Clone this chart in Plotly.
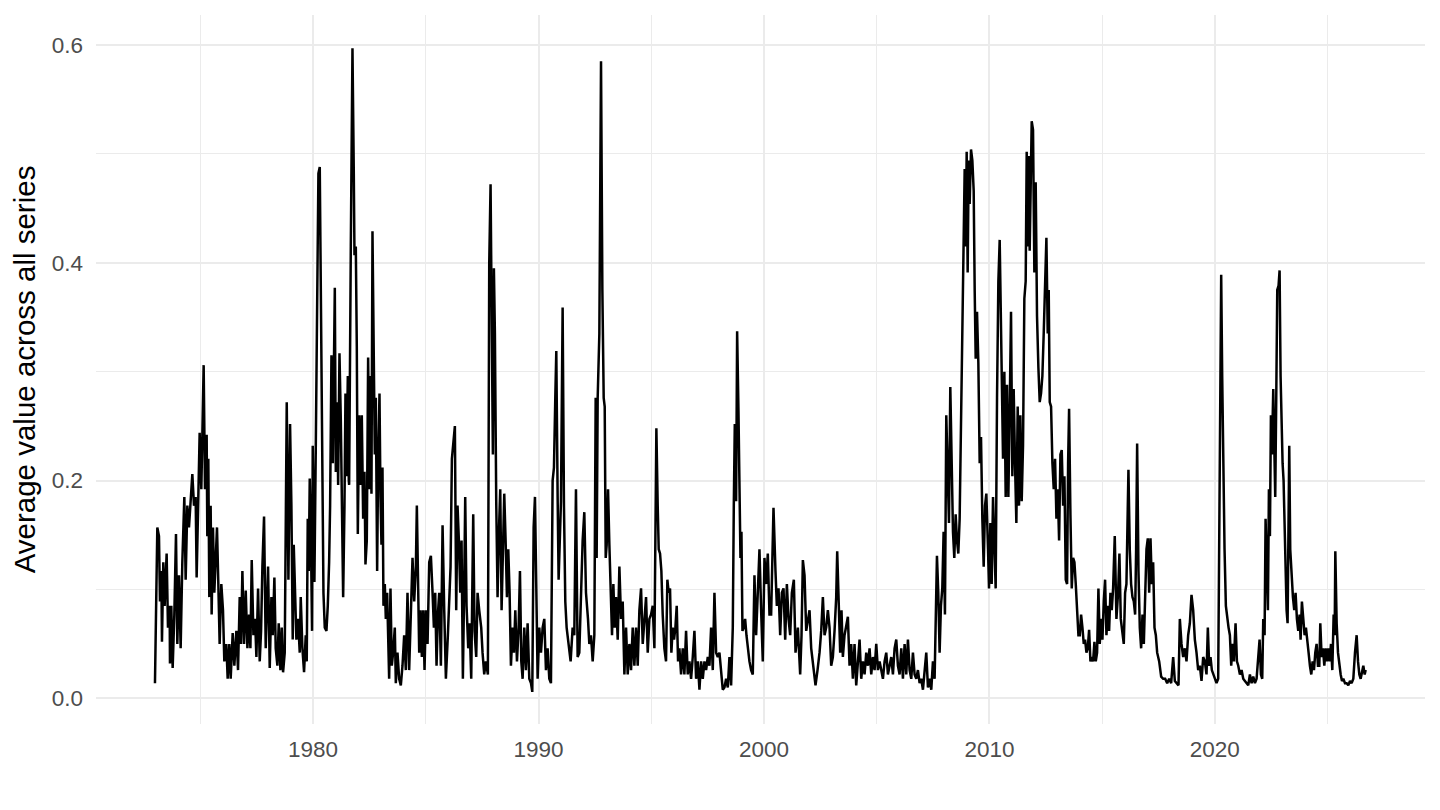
import pandas as pd
import plotly.graph_objects as go

# decimal years and average values
years_1973 = [1972.985, 1973.089, 1973.163, 1973.207, 1973.266, 1973.296, 1973.355, 1973.414, 1973.459, 1973.503,
              1973.562, 1973.636, 1973.651, 1973.710, 1973.770, 1973.844, 1973.918, 1973.977, 1974.051, 1974.125,
              1974.199, 1974.288, 1974.347, 1974.421, 1974.495, 1974.569, 1974.643, 1974.717, 1974.791, 1974.835,
              1974.909, 1974.968, 1975.042, 1975.087, 1975.146, 1975.205, 1975.279, 1975.308, 1975.353, 1975.397,
              1975.456, 1975.501, 1975.560, 1975.619, 1975.678, 1975.738, 1975.797, 1975.856, 1975.930, 1976.004,
              1976.063, 1976.152, 1976.211, 1976.285, 1976.345, 1976.433, 1976.507, 1976.596, 1976.670, 1976.744,
              1976.803, 1976.863, 1976.937, 1977.011, 1977.085, 1977.158, 1977.218, 1977.277, 1977.351, 1977.425,
              1977.484, 1977.558, 1977.632, 1977.691, 1977.750, 1977.824, 1977.898, 1977.958, 1978.002, 1978.076,
              1978.150, 1978.209, 1978.283, 1978.342, 1978.416, 1978.475, 1978.549, 1978.609, 1978.668, 1978.742,
              1978.831, 1978.905, 1978.979, 1979.038, 1979.097, 1979.142, 1979.201, 1979.260, 1979.334, 1979.408,
              1979.452, 1979.526, 1979.600, 1979.674, 1979.719, 1979.763, 1979.807, 1979.852, 1979.911, 1979.955,
              1979.985, 1980.059, 1980.118, 1980.177, 1980.236, 1980.296, 1980.355, 1980.399, 1980.459, 1980.518,
              1980.592, 1980.651, 1980.710, 1980.754, 1980.814, 1980.873, 1980.917, 1980.962, 1981.006, 1981.065,
              1981.110, 1981.169, 1981.228, 1981.287, 1981.332, 1981.391, 1981.435, 1981.480, 1981.539, 1981.583]
values_1973 = [0.014, 0.157, 0.149, 0.089, 0.117, 0.052, 0.125, 0.085, 0.109, 0.133,
               0.065, 0.085, 0.032, 0.085, 0.028, 0.077, 0.151, 0.050, 0.113, 0.046,
               0.125, 0.185, 0.109, 0.177, 0.157, 0.188, 0.206, 0.177, 0.185, 0.111,
               0.177, 0.244, 0.192, 0.248, 0.306, 0.192, 0.242, 0.149, 0.220, 0.093,
               0.177, 0.077, 0.157, 0.097, 0.137, 0.157, 0.105, 0.050, 0.105, 0.081,
               0.034, 0.050, 0.018, 0.050, 0.018, 0.060, 0.030, 0.062, 0.026, 0.093,
               0.050, 0.117, 0.050, 0.099, 0.046, 0.077, 0.046, 0.127, 0.058, 0.073,
               0.038, 0.101, 0.034, 0.062, 0.121, 0.167, 0.046, 0.097, 0.121, 0.028,
               0.093, 0.058, 0.111, 0.046, 0.030, 0.069, 0.026, 0.065, 0.024, 0.042,
               0.272, 0.109, 0.252, 0.177, 0.054, 0.141, 0.093, 0.054, 0.073, 0.042,
               0.093, 0.046, 0.024, 0.058, 0.034, 0.165, 0.117, 0.202, 0.137, 0.062,
               0.232, 0.107, 0.226, 0.335, 0.482, 0.488, 0.319, 0.256, 0.097, 0.065,
               0.062, 0.085, 0.125, 0.177, 0.315, 0.216, 0.312, 0.377, 0.208, 0.272,
               0.196, 0.317, 0.256, 0.157, 0.093, 0.177, 0.280, 0.204, 0.296, 0.200]

years_1982 = [1981.598, 1981.672, 1981.746, 1981.805, 1981.835, 1981.894, 1981.938, 1981.983, 1982.042, 1982.101,
              1982.160, 1982.220, 1982.279, 1982.323, 1982.382, 1982.441, 1982.501, 1982.545, 1982.589, 1982.634,
              1982.693, 1982.737, 1982.782, 1982.841, 1982.885, 1982.945, 1982.989, 1983.033, 1983.078, 1983.122,
              1983.181, 1983.226, 1983.285, 1983.329, 1983.374, 1983.433, 1983.492, 1983.551, 1983.625, 1983.670,
              1983.744, 1983.818, 1983.892, 1983.966, 1984.040, 1984.114, 1984.188, 1984.262, 1984.336, 1984.410,
              1984.484, 1984.558, 1984.602, 1984.661, 1984.706, 1984.765, 1984.824, 1984.883, 1984.942, 1985.002,
              1985.076, 1985.150, 1985.224, 1985.298, 1985.357, 1985.416, 1985.475, 1985.534, 1985.594, 1985.668,
              1985.742, 1985.816, 1985.890, 1985.978, 1986.037, 1986.097, 1986.156, 1986.215, 1986.289, 1986.348,
              1986.407, 1986.467, 1986.526, 1986.585, 1986.644, 1986.704, 1986.748, 1986.807, 1986.881, 1986.940,
              1987.014, 1987.103, 1987.162, 1987.236, 1987.296, 1987.369, 1987.458, 1987.517, 1987.591, 1987.665,
              1987.754, 1987.813, 1987.873, 1987.932, 1987.976, 1988.021, 1988.065, 1988.124, 1988.183, 1988.243,
              1988.302, 1988.361, 1988.420, 1988.479, 1988.539, 1988.598, 1988.657, 1988.716, 1988.775, 1988.849,
              1988.908, 1988.968, 1989.042, 1989.116, 1989.175, 1989.234, 1989.293, 1989.367, 1989.441, 1989.515,
              1989.589, 1989.663, 1989.722, 1989.782, 1989.841, 1989.900, 1989.959, 1990.033, 1990.107, 1990.181,
              1990.255, 1990.329, 1990.403, 1990.477, 1990.551, 1990.625, 1990.684, 1990.743, 1990.788, 1990.847,
              1990.891]
values_1982 = [0.196, 0.415, 0.597, 0.482, 0.407, 0.415, 0.323, 0.151, 0.260, 0.196,
               0.260, 0.165, 0.208, 0.123, 0.145, 0.313, 0.192, 0.296, 0.188, 0.429,
               0.256, 0.224, 0.276, 0.117, 0.216, 0.280, 0.185, 0.141, 0.212, 0.085,
               0.105, 0.073, 0.097, 0.058, 0.018, 0.101, 0.030, 0.042, 0.065, 0.014,
               0.042, 0.018, 0.012, 0.030, 0.058, 0.026, 0.097, 0.026, 0.085, 0.129,
               0.089, 0.121, 0.177, 0.089, 0.042, 0.081, 0.038, 0.081, 0.026, 0.081,
               0.050, 0.125, 0.131, 0.097, 0.065, 0.097, 0.030, 0.077, 0.097, 0.030,
               0.159, 0.081, 0.018, 0.058, 0.097, 0.121, 0.220, 0.236, 0.250, 0.081,
               0.177, 0.145, 0.097, 0.145, 0.018, 0.105, 0.185, 0.085, 0.046, 0.069,
               0.018, 0.169, 0.062, 0.038, 0.097, 0.081, 0.065, 0.042, 0.022, 0.034,
               0.022, 0.399, 0.472, 0.327, 0.224, 0.395, 0.335, 0.181, 0.093, 0.153,
               0.192, 0.081, 0.145, 0.188, 0.145, 0.093, 0.137, 0.097, 0.030, 0.065,
               0.042, 0.081, 0.034, 0.065, 0.117, 0.034, 0.018, 0.065, 0.026, 0.069,
               0.018, 0.014, 0.006, 0.157, 0.185, 0.089, 0.018, 0.065, 0.042, 0.065,
               0.073, 0.026, 0.046, 0.018, 0.014, 0.200, 0.212, 0.276, 0.319, 0.185,
               0.109]

years_1991 = [1990.995, 1991.069, 1991.128, 1991.187, 1991.247, 1991.335, 1991.424, 1991.513, 1991.587, 1991.661,
              1991.735, 1991.809, 1991.883, 1991.957, 1992.031, 1992.105, 1992.194, 1992.253, 1992.327, 1992.401,
              1992.475, 1992.534, 1992.578, 1992.623, 1992.697, 1992.771, 1992.830, 1992.889, 1992.934, 1992.978,
              1993.022, 1993.082, 1993.141, 1993.215, 1993.259, 1993.318, 1993.378, 1993.437, 1993.511, 1993.585,
              1993.659, 1993.733, 1993.807, 1993.881, 1993.955, 1994.029, 1994.103, 1994.177, 1994.251, 1994.325,
              1994.399, 1994.473, 1994.547, 1994.621, 1994.695, 1994.769, 1994.843, 1994.917, 1994.991, 1995.065,
              1995.139, 1995.183, 1995.227, 1995.286, 1995.331, 1995.390, 1995.449, 1995.508, 1995.582, 1995.656,
              1995.715, 1995.775, 1995.834, 1995.893, 1995.952, 1996.012, 1996.071, 1996.130, 1996.189, 1996.249,
              1996.323, 1996.397, 1996.470, 1996.544, 1996.618, 1996.692, 1996.766, 1996.840, 1996.914, 1996.988,
              1997.062, 1997.136, 1997.210, 1997.284, 1997.358, 1997.432, 1997.506, 1997.580, 1997.654, 1997.728,
              1997.802, 1997.876, 1997.950, 1998.024, 1998.098, 1998.172, 1998.246, 1998.320, 1998.394, 1998.468,
              1998.542, 1998.616, 1998.661, 1998.705, 1998.764, 1998.809, 1998.868, 1998.912, 1998.957, 1999.001,
              1999.045, 1999.105, 1999.164, 1999.223, 1999.282, 1999.356, 1999.430, 1999.504, 1999.578, 1999.652,
              1999.726, 1999.800, 1999.874, 1999.948, 2000.022, 2000.096, 2000.170]
values_1991 = [0.181, 0.359, 0.177, 0.089, 0.065, 0.046, 0.034, 0.065, 0.058, 0.192,
               0.038, 0.042, 0.093, 0.145, 0.171, 0.097, 0.073, 0.050, 0.058, 0.034,
               0.058, 0.276, 0.129, 0.276, 0.335, 0.585, 0.375, 0.276, 0.268, 0.129,
               0.141, 0.192, 0.141, 0.097, 0.058, 0.105, 0.065, 0.093, 0.054, 0.121,
               0.073, 0.089, 0.022, 0.065, 0.022, 0.050, 0.026, 0.065, 0.030, 0.065,
               0.030, 0.081, 0.101, 0.050, 0.073, 0.093, 0.042, 0.073, 0.077, 0.085,
               0.046, 0.165, 0.248, 0.177, 0.137, 0.133, 0.117, 0.077, 0.046, 0.034,
               0.109, 0.097, 0.101, 0.042, 0.065, 0.054, 0.065, 0.085, 0.034, 0.046,
               0.022, 0.046, 0.022, 0.062, 0.022, 0.034, 0.018, 0.038, 0.062, 0.018,
               0.034, 0.008, 0.034, 0.018, 0.034, 0.026, 0.038, 0.030, 0.065, 0.026,
               0.097, 0.042, 0.038, 0.042, 0.022, 0.008, 0.010, 0.018, 0.010, 0.038,
               0.012, 0.065, 0.177, 0.252, 0.181, 0.337, 0.264, 0.185, 0.129, 0.153,
               0.062, 0.065, 0.073, 0.058, 0.046, 0.034, 0.026, 0.022, 0.113, 0.058,
               0.097, 0.137, 0.081, 0.034, 0.129, 0.105, 0.133]

years_2000 = [2000.244, 2000.318, 2000.422, 2000.510, 2000.570, 2000.644, 2000.718, 2000.792, 2000.866, 2000.940,
              2001.014, 2001.088, 2001.161, 2001.235, 2001.324, 2001.398, 2001.502, 2001.605, 2001.665, 2001.724,
              2001.798, 2001.872, 2001.946, 2002.020, 2002.094, 2002.197, 2002.286, 2002.375, 2002.464, 2002.538,
              2002.612, 2002.686, 2002.760, 2002.834, 2002.908, 2002.982, 2003.056, 2003.130, 2003.204, 2003.248,
              2003.307, 2003.381, 2003.440, 2003.500, 2003.574, 2003.648, 2003.722, 2003.796, 2003.870, 2003.944,
              2004.018, 2004.092, 2004.166, 2004.240, 2004.314, 2004.388, 2004.462, 2004.536, 2004.610, 2004.683,
              2004.757, 2004.831, 2004.905, 2004.979, 2005.053, 2005.127, 2005.201, 2005.275, 2005.349, 2005.423,
              2005.497, 2005.571, 2005.645, 2005.719, 2005.793, 2005.867, 2005.941, 2006.015, 2006.089, 2006.163,
              2006.237, 2006.311, 2006.385, 2006.459, 2006.533, 2006.607, 2006.681, 2006.755, 2006.829, 2006.903,
              2006.977, 2007.051, 2007.125, 2007.199, 2007.273, 2007.347, 2007.421, 2007.495, 2007.569, 2007.613,
              2007.673, 2007.732, 2007.791, 2007.850, 2007.910, 2007.969, 2008.028, 2008.087, 2008.146, 2008.206,
              2008.265, 2008.324, 2008.383, 2008.442, 2008.502, 2008.561, 2008.620, 2008.679, 2008.738, 2008.798,
              2008.842, 2008.901, 2008.945, 2008.990, 2009.034, 2009.079, 2009.123, 2009.182, 2009.241, 2009.301,
              2009.345, 2009.390, 2009.449, 2009.508, 2009.567, 2009.626, 2009.685, 2009.745, 2009.804, 2009.863,
              2009.937, 2009.981]
values_2000 = [0.077, 0.077, 0.175, 0.117, 0.085, 0.101, 0.058, 0.097, 0.101, 0.054,
               0.105, 0.073, 0.058, 0.097, 0.109, 0.042, 0.065, 0.022, 0.058, 0.127,
               0.113, 0.062, 0.073, 0.081, 0.046, 0.026, 0.012, 0.026, 0.042, 0.062,
               0.093, 0.058, 0.065, 0.081, 0.065, 0.030, 0.038, 0.062, 0.093, 0.135,
               0.089, 0.042, 0.081, 0.038, 0.058, 0.065, 0.075, 0.030, 0.050, 0.018,
               0.050, 0.012, 0.034, 0.054, 0.018, 0.034, 0.022, 0.042, 0.030, 0.046,
               0.022, 0.038, 0.026, 0.050, 0.026, 0.034, 0.026, 0.018, 0.034, 0.042,
               0.022, 0.030, 0.038, 0.022, 0.046, 0.054, 0.030, 0.022, 0.046, 0.018,
               0.050, 0.022, 0.054, 0.026, 0.018, 0.042, 0.022, 0.018, 0.026, 0.014,
               0.018, 0.008, 0.022, 0.042, 0.010, 0.018, 0.008, 0.034, 0.018, 0.065,
               0.131, 0.097, 0.042, 0.085, 0.101, 0.153, 0.077, 0.260, 0.216, 0.161,
               0.286, 0.216, 0.153, 0.129, 0.169, 0.145, 0.133, 0.165, 0.256, 0.375,
               0.446, 0.486, 0.415, 0.502, 0.391, 0.494, 0.454, 0.504, 0.494, 0.466,
               0.375, 0.312, 0.355, 0.308, 0.216, 0.240, 0.165, 0.121, 0.177, 0.188,
               0.137, 0.101]

years_2010 = [2010.041, 2010.100, 2010.159, 2010.218, 2010.277, 2010.337, 2010.396, 2010.455, 2010.499, 2010.544,
              2010.603, 2010.662, 2010.721, 2010.780, 2010.840, 2010.899, 2010.958, 2011.017, 2011.076, 2011.136,
              2011.195, 2011.254, 2011.313, 2011.372, 2011.432, 2011.491, 2011.550, 2011.609, 2011.654, 2011.698,
              2011.743, 2011.787, 2011.831, 2011.876, 2011.935, 2011.994, 2012.053, 2012.112, 2012.172, 2012.231,
              2012.290, 2012.349, 2012.408, 2012.468, 2012.527, 2012.586, 2012.630, 2012.675, 2012.734, 2012.793,
              2012.852, 2012.911, 2012.971, 2013.030, 2013.089, 2013.148, 2013.207, 2013.267, 2013.326, 2013.385,
              2013.444, 2013.489, 2013.533, 2013.592, 2013.651, 2013.711, 2013.770, 2013.829, 2013.888, 2013.947,
              2014.007, 2014.066, 2014.125, 2014.184, 2014.243, 2014.303, 2014.362, 2014.421, 2014.480, 2014.539,
              2014.599, 2014.658, 2014.717, 2014.776, 2014.835, 2014.895, 2014.954, 2015.013, 2015.072, 2015.131,
              2015.191, 2015.250, 2015.309, 2015.368, 2015.427, 2015.487, 2015.560, 2015.634, 2015.708, 2015.767,
              2015.827, 2015.901, 2015.960, 2016.019, 2016.078, 2016.167, 2016.226, 2016.285, 2016.345, 2016.404,
              2016.463, 2016.507, 2016.552, 2016.611, 2016.670, 2016.729, 2016.789, 2016.848, 2016.907, 2016.966,
              2017.025, 2017.085, 2017.144, 2017.203, 2017.262, 2017.321, 2017.381, 2017.440, 2017.529, 2017.617,
              2017.706, 2017.795, 2017.884, 2017.973, 2018.061, 2018.150, 2018.224, 2018.298, 2018.387, 2018.446,
              2018.520, 2018.594, 2018.668, 2018.742, 2018.816, 2018.890]
values_2010 = [0.161, 0.105, 0.185, 0.137, 0.101, 0.276, 0.383, 0.421, 0.355, 0.312,
               0.220, 0.300, 0.185, 0.288, 0.185, 0.264, 0.355, 0.204, 0.284, 0.216,
               0.161, 0.268, 0.177, 0.260, 0.181, 0.232, 0.367, 0.383, 0.502, 0.415,
               0.498, 0.411, 0.462, 0.530, 0.522, 0.391, 0.474, 0.351, 0.304, 0.272,
               0.280, 0.296, 0.335, 0.379, 0.423, 0.335, 0.375, 0.272, 0.268, 0.216,
               0.192, 0.220, 0.165, 0.192, 0.145, 0.224, 0.228, 0.177, 0.204, 0.109,
               0.105, 0.216, 0.266, 0.169, 0.101, 0.129, 0.125, 0.105, 0.085, 0.058,
               0.058, 0.077, 0.065, 0.050, 0.054, 0.042, 0.046, 0.063, 0.034, 0.038,
               0.034, 0.052, 0.034, 0.042, 0.101, 0.050, 0.073, 0.054, 0.089, 0.109,
               0.058, 0.085, 0.062, 0.097, 0.081, 0.101, 0.149, 0.073, 0.097, 0.133,
               0.073, 0.062, 0.050, 0.097, 0.105, 0.210, 0.137, 0.105, 0.093, 0.089,
               0.077, 0.137, 0.234, 0.117, 0.065, 0.046, 0.077, 0.050, 0.101, 0.137,
               0.147, 0.097, 0.147, 0.105, 0.125, 0.065, 0.058, 0.042, 0.034, 0.020,
               0.018, 0.018, 0.014, 0.018, 0.014, 0.038, 0.016, 0.014, 0.012, 0.073,
               0.050, 0.038, 0.046, 0.034, 0.058, 0.069]

years_2019 = [2018.964, 2019.038, 2019.112, 2019.186, 2019.260, 2019.334, 2019.408, 2019.482, 2019.556, 2019.630,
              2019.689, 2019.748, 2019.808, 2019.867, 2019.926, 2020.000, 2020.074, 2020.148, 2020.192, 2020.237,
              2020.281, 2020.325, 2020.370, 2020.429, 2020.488, 2020.547, 2020.607, 2020.666, 2020.725, 2020.784,
              2020.843, 2020.917, 2020.977, 2021.036, 2021.110, 2021.184, 2021.258, 2021.332, 2021.406, 2021.480,
              2021.554, 2021.628, 2021.702, 2021.776, 2021.850, 2021.924, 2021.983, 2022.042, 2022.101, 2022.146,
              2022.205, 2022.249, 2022.294, 2022.353, 2022.397, 2022.442, 2022.486, 2022.530, 2022.590, 2022.634,
              2022.678, 2022.723, 2022.767, 2022.826, 2022.871, 2022.915, 2022.960, 2023.004, 2023.048, 2023.093,
              2023.137, 2023.182, 2023.226, 2023.270, 2023.300, 2023.344, 2023.403, 2023.463, 2023.522, 2023.581,
              2023.640, 2023.699, 2023.759, 2023.803, 2023.862, 2023.921, 2023.981, 2024.040, 2024.099, 2024.158,
              2024.217, 2024.277, 2024.336, 2024.395, 2024.454, 2024.513, 2024.573, 2024.632, 2024.676, 2024.735,
              2024.795, 2024.854, 2024.913, 2024.972, 2025.031, 2025.091, 2025.150, 2025.209, 2025.268, 2025.313,
              2025.342, 2025.401, 2025.461, 2025.520, 2025.579, 2025.638, 2025.697, 2025.771, 2025.845, 2025.919,
              2025.993, 2026.067, 2026.141, 2026.215, 2026.289, 2026.349, 2026.408, 2026.467, 2026.526, 2026.585,
              2026.645, 2026.689]
values_2019 = [0.095, 0.081, 0.054, 0.042, 0.026, 0.030, 0.016, 0.038, 0.034, 0.022,
               0.065, 0.030, 0.038, 0.026, 0.022, 0.018, 0.014, 0.018, 0.137, 0.296,
               0.389, 0.296, 0.216, 0.137, 0.085, 0.073, 0.065, 0.058, 0.030, 0.050,
               0.034, 0.069, 0.034, 0.030, 0.022, 0.026, 0.018, 0.016, 0.014, 0.012,
               0.022, 0.014, 0.020, 0.014, 0.018, 0.034, 0.054, 0.022, 0.018, 0.073,
               0.058, 0.165, 0.129, 0.081, 0.192, 0.149, 0.260, 0.224, 0.284, 0.216,
               0.185, 0.276, 0.375, 0.379, 0.393, 0.296, 0.240, 0.216, 0.200, 0.157,
               0.109, 0.081, 0.069, 0.216, 0.232, 0.137, 0.113, 0.093, 0.081, 0.097,
               0.073, 0.062, 0.077, 0.054, 0.089, 0.069, 0.058, 0.065, 0.050, 0.042,
               0.030, 0.022, 0.034, 0.026, 0.042, 0.050, 0.030, 0.030, 0.069, 0.038,
               0.046, 0.030, 0.046, 0.034, 0.046, 0.034, 0.050, 0.026, 0.077, 0.058,
               0.135, 0.069, 0.042, 0.030, 0.022, 0.016, 0.018, 0.014, 0.014, 0.012,
               0.016, 0.014, 0.018, 0.042, 0.058, 0.034, 0.022, 0.018, 0.026, 0.030,
               0.022, 0.026]

y_ticks = [0.0, 0.2, 0.4, 0.6]
y_labels = ["0.0", "0.2", "0.4", "0.6"]
x_ticks = ["1980-01-01", "1990-01-01", "2000-01-01", "2010-01-01", "2020-01-01"]
x_labels = ["1980", "1990", "2000", "2010", "2020"]
x_minor = ["1975-01-01", "1985-01-01", "1995-01-01", "2005-01-01", "2015-01-01", "2025-01-01"]


def to_date(y):
    yr = int(y)
    start = pd.Timestamp(year=yr, month=1, day=1)
    end = pd.Timestamp(year=yr + 1, month=1, day=1)
    return start + (end - start) * (y - yr)


years = years_1973 + years_1982 + years_1991 + years_2000 + years_2010 + years_2019
values = values_1973 + values_1982 + values_1991 + values_2000 + values_2010 + values_2019
dates = [to_date(y) for y in years]

fig = go.Figure()
fig.add_trace(go.Scatter(x=dates, y=values, mode="lines",
                         line=dict(color="black", width=2.5), showlegend=False))

grid = "#EBEBEB"
# page body has an 8px margin, so the figure is sized to sit inside it
fig.update_layout(
    width=1424, height=794,
    margin=dict(l=88, r=7, t=7, b=78),
    paper_bgcolor="white", plot_bgcolor="white",
    font=dict(family="Liberation Sans, Arial, sans-serif", color="#4D4D4D"),
)
fig.update_xaxes(
    range=[to_date(1970.37), to_date(2029.32)],
    tickvals=x_ticks, ticktext=x_labels,
    tickfont=dict(size=22.5, color="#4D4D4D"),
    showgrid=True, gridcolor=grid, gridwidth=2,
    minor=dict(tickvals=x_minor, showgrid=True, gridcolor=grid, gridwidth=1),
    zeroline=False, showline=False, ticks="", ticklabelstandoff=9,
)
fig.update_yaxes(
    range=[-0.0235, 0.6275],
    tickvals=y_ticks, ticktext=y_labels,
    tickfont=dict(size=22.5, color="#4D4D4D"),
    showgrid=True, gridcolor=grid, gridwidth=2,
    minor=dict(dtick=0.1, tick0=0, showgrid=True, gridcolor=grid, gridwidth=1),
    zeroline=False, showline=False, ticks="", ticklabelstandoff=12,
    title=dict(text="Average value across all series",
               font=dict(size=29.5, color="black"), standoff=8),
)

fig.write_html("out.html")
